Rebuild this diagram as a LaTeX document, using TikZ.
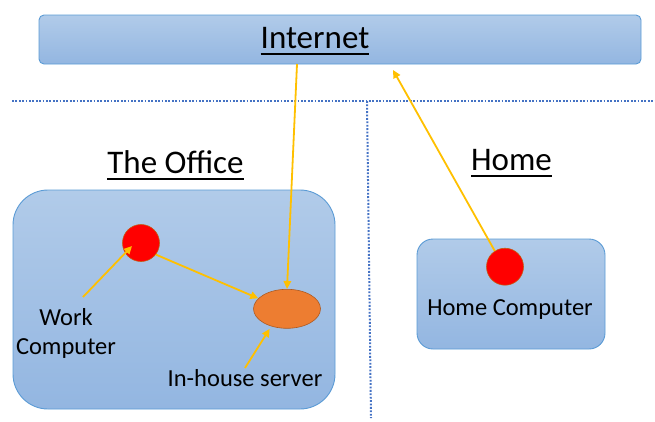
\documentclass[tikz,border=0pt]{standalone}
\usepackage{fontspec}
\setmainfont{Carlito}
\usepackage{tikz}
\usetikzlibrary{arrows.meta,positioning,calc,shapes.geometric}
\definecolor{zonetop}{HTML}{B1CBE9}
\definecolor{zonebot}{HTML}{93B6E1}
\definecolor{zoneline}{HTML}{5B9BD5}
\definecolor{pcline}{HTML}{C55A11}
\definecolor{srvfill}{HTML}{ED7D31}
\definecolor{srvline}{HTML}{AE5A21}
\definecolor{gold}{HTML}{FFC000}
\definecolor{divblue}{HTML}{4472C4}
\newcommand{\ulined}[1]{\setbox0=\hbox{#1}\rlap{\rule[-7pt]{\wd0}{2.4pt}}\box0}

\begin{document}
\begin{tikzpicture}[
  x=1pt,y=-1pt,
  every node/.style={inner sep=0pt},
  zone/.style={draw=zoneline,line width=0.9pt,top color=zonetop,bottom color=zonebot},
  pc/.style={circle,fill=red,draw=pcline,line width=0.6pt,minimum size=37pt},
  srv/.style={ellipse,fill=srvfill,draw=srvline,line width=0.6pt,minimum width=67pt,minimum height=39pt},
  link/.style={-{Triangle[length=8pt,width=7.5pt]},line width=1.8pt,color=gold},
  divider/.style={line width=2pt,color=divblue,dash pattern=on 1.8pt off 1.6pt},
  title/.style={font=\fontsize{33}{40}\selectfont,anchor=base},
  lbl/.style={font=\fontsize{24.5}{29}\selectfont,anchor=base,align=center}
]
\useasboundingbox (0,0) rectangle (655,421);
% dotted dividers
\draw[divider] (12,101) -- (655,101);
\draw[divider] (367,101) -- (371,418);
% zones
\node[zone,rounded corners=5pt,minimum width=602pt,minimum height=49pt] (internet) at (340,39.5) {};
\node[zone,rounded corners=35pt,minimum width=322pt,minimum height=219pt] (office) at (174,299.5) {};
\node[zone,rounded corners=16pt,minimum width=188pt,minimum height=110pt] (home) at (511,294) {};
\node[title] (inettitle) at (315,48) {\ulined{Internet}};
\node[title] (officetitle) at (175.5,173) {\ulined{The Office}};
\node[title] (hometitle) at (511.5,170) {\ulined{Home}};
% machines
\node[pc] (workpc) at (141,243) {};
\node[srv] (server) at (287,308.8) {};
\node[pc] (homepc) at (505,266.7) {};
\node[lbl] (worklabel) at (66,354) {Work\\Computer};
\node[lbl] (serverlabel) at (245,386) {In-house server};
\node[lbl] (homelabel) at (510,315.5) {Home Computer};
% free ends
\coordinate (inetout) at (297,64);
\coordinate (inetin) at (393,70);
\coordinate (workfrom) at (83,297);
\coordinate (workto) at (132,246);
\coordinate (serverfrom) at (245,368);
% links
\draw[link] (inetout) -- (server.north);
\draw[link] (homepc.123) -- (inetin);
\draw[link] (workpc.-38) -- (server.160);
\draw[link] (workfrom) -- (workto);
\draw[link,shorten >=3pt] (serverfrom) -- (server.228);
\end{tikzpicture}
\end{document}
